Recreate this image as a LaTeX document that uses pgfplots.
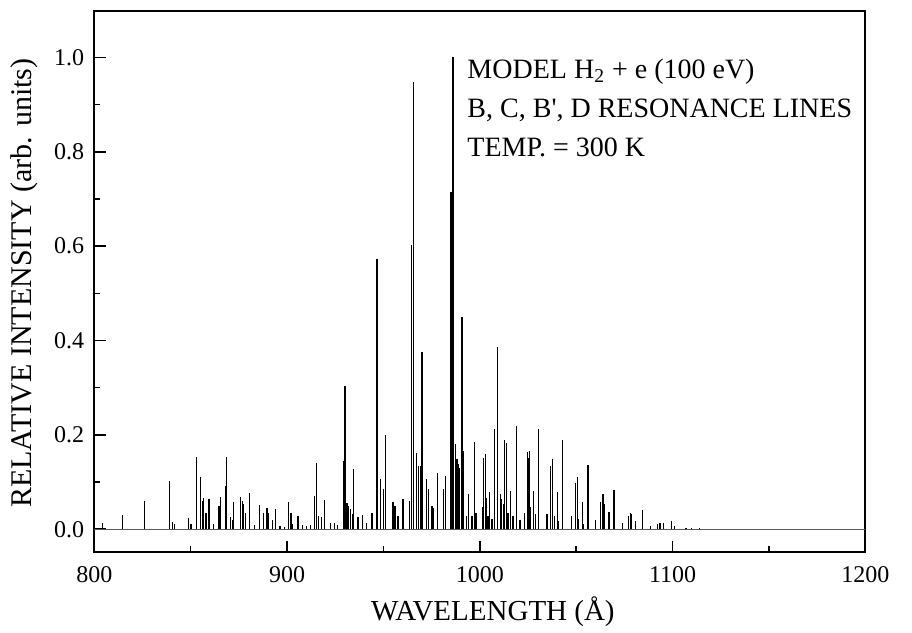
\documentclass[border=0pt]{standalone}
\usepackage{pgfplots}
\pgfplotsset{compat=1.18}
\usepackage{fontspec}
\setmainfont{Liberation Serif}
\begin{document}
\begin{tikzpicture}
\begin{axis}[name=ax, clip=false,
  width=385.5pt, height=270.8pt, scale only axis,
  xmin=800, xmax=1200, ymin=-0.049, ymax=1.099,
  axis line style={line width=1pt},
  tick align=inside, xtick pos=left, ytick pos=left,
  xtick={800,900,1000,1100,1200}, minor x tick num=1,
  ytick={0,0.2,0.4,0.6,0.8,1.0}, minor y tick num=1,
  major tick length=5.8pt, minor tick length=3pt,
  every tick/.style={black, line width=0.8pt},
  /pgf/number format/assume math mode=true,
  ticklabel style={font=\fontsize{12}{14}\selectfont},
  xticklabel style={/pgf/number format/1000 sep={}, yshift=-3.5pt},
  yticklabel style={/pgf/number format/fixed, /pgf/number format/fixed zerofill, /pgf/number format/precision=1, xshift=-1.5pt},
  xlabel={WAVELENGTH (Å)},
  ylabel={RELATIVE INTENSITY (arb. units)},
  xlabel style={font=\fontsize{14.5}{17}\selectfont, at={(axis description cs:0.517,-0.125)}, anchor=base},
  ylabel style={font=\fontsize{15}{18}\selectfont, at={(axis description cs:-0.082,0.497)}, anchor=base},
]
\addplot[gray!70!black, line width=0.6pt] coordinates {(800,0) (1200,0)};
\addplot[ycomb, black, line width=0.6pt, no marks] coordinates {
(804.3,0.014) (814.7,0.030) (826.1,0.059) (839.2,0.102) (840.6,0.015) (841.8,0.012)
(848.9,0.023) (850.2,0.010) (853.2,0.154) (855.3,0.110) (856.3,0.060) (856.8,0.067)
(858.0,0.035) (859.5,0.063) (862.0,0.012) (864.7,0.049) (865.5,0.068) (868.1,0.092)
(868.6,0.154) (870.5,0.025) (871.5,0.020) (872.4,0.058) (875.7,0.068) (876.7,0.060)
(877.4,0.053) (878.6,0.034) (880.5,0.076) (883.0,0.008) (885.9,0.051) (887.9,0.034)
(889.6,0.044) (890.4,0.034) (892.5,0.020) (894.2,0.042) (896.3,0.007) (898.5,0.005)
(900.8,0.058) (902.0,0.035) (903.0,0.012) (905.7,0.028) (908.0,0.008) (910.0,0.006)
(912.0,0.008) (914.3,0.070) (915.2,0.141) (916.5,0.028) (917.8,0.025) (919.3,0.062)
(922.4,0.013) (924.5,0.014) (926.0,0.009) (929.4,0.145) (930.1,0.304) (931.1,0.056)
(931.9,0.049) (933.0,0.042) (933.8,0.032) (934.6,0.128) (936.8,0.025) (939.0,0.030)
(941.1,0.013) (944.1,0.034) (946.2,0.208) (946.7,0.572) (948.4,0.107) (950.2,0.085)
(951.2,0.199) (955.0,0.058) (956.0,0.049) (957.6,0.027) (960.2,0.063) (963.7,0.060)
(964.5,0.602) (965.4,0.948) (967.1,0.161) (968.3,0.135) (969.2,0.133) (970.0,0.376)
(972.3,0.107) (973.5,0.085) (975.2,0.049) (976.1,0.044) (978.2,0.119) (981.3,0.085)
(982.1,0.113) (985.1,0.715) (986.1,1.000) (987.3,0.180) (988.2,0.148) (989.1,0.138)
(989.6,0.130) (990.8,0.449) (991.7,0.166) (993.2,0.028) (994.3,0.074) (996.0,0.028)
(997.4,0.184) (998.0,0.035) (1001.7,0.046) (1002.1,0.150) (1002.9,0.159) (1003.5,0.067)
(1004.2,0.028) (1005.2,0.078) (1006.3,0.021) (1007.8,0.212) (1009.0,0.387) (1009.3,0.194)
(1010.7,0.074) (1011.2,0.063) (1012.5,0.053) (1013.0,0.188) (1013.8,0.182) (1014.6,0.035)
(1015.9,0.081) (1017.2,0.028) (1019.0,0.219) (1020.8,0.020) (1023.1,0.035) (1024.6,0.164)
(1025.1,0.150) (1025.6,0.166) (1026.2,0.046) (1028.0,0.081) (1028.9,0.032) (1030.6,0.212)
(1034.9,0.032) (1036.7,0.133) (1037.9,0.148) (1038.8,0.028) (1040.1,0.078) (1041.0,0.018)
(1043.1,0.188) (1047.4,0.027) (1049.7,0.097) (1050.5,0.110) (1051.4,0.021) (1053.1,0.058)
(1053.8,0.010) (1056.1,0.137) (1060.2,0.020) (1062.6,0.058) (1063.9,0.074) (1064.4,0.053)
(1067.0,0.037) (1069.6,0.083) (1074.0,0.014) (1077.0,0.028) (1078.2,0.035) (1078.9,0.032)
(1080.6,0.018) (1084.3,0.041) (1088.6,0.007) (1092.0,0.012) (1093.5,0.014) (1095.5,0.013)
(1099.5,0.017) (1101.0,0.007) (1107.0,0.003) (1110.0,0.003) (1114.0,0.003)
};
\node[anchor=north west, align=left, inner sep=0pt, font=\fontsize{14}{19.5}\selectfont]
  at (axis cs:993.4,0.998)
  {MODEL H\textsubscript{2} + e (100 eV)\\B, C, B\textquotesingle, D RESONANCE LINES\\TEMP. = 300 K};
\end{axis}
\path ([shift={(-47.15pt,-37.35pt)}]ax.south west) rectangle ([shift={(23.35pt,5.35pt)}]ax.north east);
\end{tikzpicture}
\end{document}
